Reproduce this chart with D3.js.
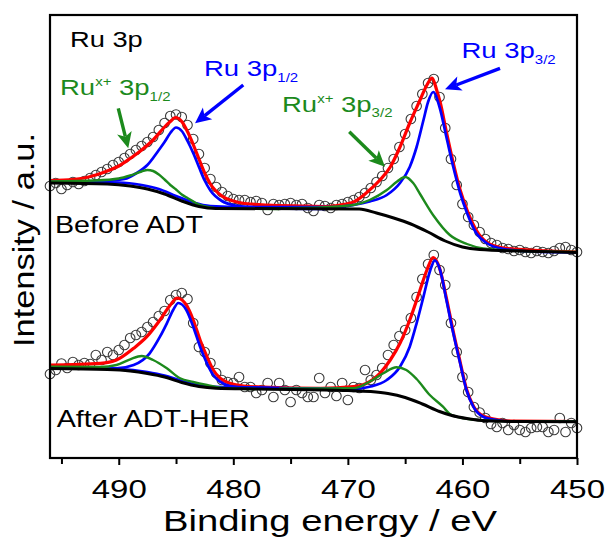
<!DOCTYPE html>
<html><head><meta charset="utf-8">
<script src="https://cdn.jsdelivr.net/npm/d3@7"></script>
<style>
body{margin:0;background:#fff}
svg{display:block}
text{font-family:"Liberation Sans",Arial,sans-serif;white-space:pre}
</style>
</head><body>
<svg id="chart" width="611" height="539"></svg>
<script>
// ---------------- data (binding energy in eV, intensity in a.u.) ----------------
const xTicksMajor = [490, 480, 470, 460, 450];
const xTicksMinor = [495, 485, 475, 465, 455];
const energyGrid = d3.range(496, 449.75, -0.5);   // measured energy steps

// Before ADT : raw data (open circles)
const topCircles = [27.2,27.5,26.9,27.3,27.6,27.4,27.7,28.0,28.3,28.6,
  28.9,29.3,29.6,30.0,30.4,30.8,31.2,31.6,32.1,32.8,
  33.5,34.2,34.35,34.1,33.3,31.9,30.4,29.0,27.9,27.1,
  26.6,26.2,25.9,25.8,25.8,25.6,25.7,25.5,24.8,25.4,
  25.3,25.4,25.5,25.3,25.4,25.0,24.7,25.3,25.2,25.0,
  25.3,25.4,25.6,25.8,26.1,26.5,27.0,27.6,28.2,29.0,
  29.9,31.1,32.4,33.9,35.2,36.4,37.5,37.9,36.1,33.0,
  29.9,27.3,25.4,24.1,23.3,22.6,21.9,21.5,21.3,21.0,
  20.9,20.7,20.8,20.6,20.5,20.7,20.6,20.5,20.7,21.0,
  21.1,20.8,20.6];
// After ADT-HER : raw data (open circles)
const botCircles = [8.4,8.8,9.45,9.0,9.6,9.3,9.5,9.4,10.3,9.8,
  10.6,10.3,10.8,11.3,12.0,12.3,12.6,13.1,13.6,14.2,
  14.7,15.8,16.3,16.5,15.9,13.5,11.1,10.6,9.5,8.5,
  7.8,7.6,7.5,8.1,7.1,7.1,6.5,6.8,7.5,6.1,
  7.5,6.8,5.6,6.8,6.5,6.1,6.1,8.0,6.5,7.1,
  6.2,7.5,5.8,7.1,7.0,8.8,7.8,8.3,9.0,10.3,
  11.3,12.2,12.8,14.0,16.1,17.9,19.4,20.3,18.8,17.3,
  13.5,10.6,8.1,6.6,5.1,4.55,4.0,3.4,3.1,3.5,
  2.8,3.3,2.8,2.6,3.0,3.1,3.1,2.6,2.8,4.0,
  2.6,3.5,3.0];

// Before ADT : fitted curves [eV, intensity]
const topBackground = [[496,27.5],[491,27.4],[489,27.2],[487.5,26.9],[486,26.4],[484.5,25.7],[483,25.15],[481.5,24.95],[469,24.9],[467.5,24.5],[466,24.0],[464.5,23.4],[463,22.6],[461.5,21.7],[460,21.1],[458.5,20.85],[455,20.7],[450,20.55]];
const topRu12 = [[496,27.6],[491,27.7],[489.5,27.9],[488.5,28.45],[487.5,29.3],[486.5,30.8],[486,31.6],[485.5,32.5],[485,33.05],[484.5,32.7],[484,31.7],[483.5,30.5],[483,29.1],[482.5,27.75],[482,26.75],[481,25.7],[480,25.3],[478,25.05],[476,24.95],[472,24.9]];
const topRux12 = [[496,27.65],[492,27.75],[490,27.95],[489,28.25],[488,28.65],[487.5,28.8],[487,28.7],[486.5,28.35],[486,27.85],[485.5,27.3],[485,26.85],[484.5,26.35],[484,26.0],[483,25.35],[482,25.05],[481,24.95],[476,24.9]];
const topRu32 = [[496,27.6],[490,27.55],[488,27.3],[486.5,26.9],[485,26.2],[483.5,25.55],[482,25.2],[479,25.1],[471,25.1],[469.5,25.3],[468.1,25.65],[466.6,26.3],[465.45,27.5],[464.6,29.1],[464,31.1],[463.4,33.8],[463,35.6],[462.55,36.6],[462,35.1],[461.4,32.1],[460.8,29.1],[460.2,26.5],[459.6,24.5],[458.8,22.5],[457.9,21.5],[456.4,20.9],[454.1,20.65],[450,20.55]];
const topRux32 = [[478,24.95],[472.4,25.05],[469.5,25.3],[468.1,25.8],[466.6,26.8],[465.7,27.65],[465.0,28.1],[464.3,27.5],[463.7,26.4],[462.5,24.2],[461.1,22.3],[459.6,21.4],[458.2,20.95],[456,20.75],[450,20.6]];
const topEnvelope = [[496,27.75],[494,27.85],[493,28.0],[492,28.3],[491,28.7],[490,29.2],[489,29.95],[488,30.8],[487,31.8],[486,33.1],[485.5,33.65],[485.05,34.05],[484.5,33.65],[484,32.65],[483.5,31.35],[483,29.9],[482.5,28.5],[482,27.4],[481,26.2],[480,25.7],[479,25.45],[477,25.3],[474,25.2],[472,25.15],[470.7,25.3],[469.5,25.6],[468.4,26.5],[467.2,27.8],[466.3,29.1],[465.45,31.1],[464.6,33.5],[463.7,35.8],[463.1,37.3],[462.65,38.0],[462.25,36.8],[461.95,35.6],[461.4,32.6],[460.8,29.5],[460.2,26.8],[459.6,24.8],[458.8,22.8],[457.9,21.6],[456.4,21.0],[454.1,20.8],[450,20.6]];

// After ADT-HER : fitted curves [eV, intensity]
const botBackground = [[496,8.95],[491,8.85],[489,8.7],[487.5,8.45],[486,8.1],[484.5,7.55],[483,7.15],[481.5,6.98],[478,6.9],[470,6.75],[468,6.65],[466.5,6.45],[465,6.05],[463.5,5.4],[462,4.65],[461,4.27],[459.5,3.92],[458,3.72],[455,3.65],[450,3.63]];
const botRu12 = [[496,9.07],[490.2,8.97],[488.7,9.3],[487.3,10.47],[486.4,12.13],[485.8,13.47],[485.25,14.8],[484.8,15.5],[484.1,14.8],[483.5,13.13],[482.9,11.13],[482.3,9.47],[481.75,8.3],[481.15,7.63],[480.3,7.2],[478.5,7.05],[476,7.0],[472,6.85]];
const botRux12 = [[496,9.13],[491.6,9.1],[490.2,9.3],[489,9.87],[488,10.2],[487,9.8],[485.8,8.97],[484.65,7.97],[483.5,7.6],[482.3,7.3],[480.6,6.97],[478,6.9]];
const botRu32 = [[496,9.05],[490,8.9],[487.5,8.6],[486,8.25],[484.5,7.7],[483,7.3],[481,7.1],[476,7.0],[472,6.95],[469.5,6.9],[468.1,7.13],[466.6,7.8],[465.45,9.13],[464.6,11.13],[464,13.47],[463.4,16.13],[462.85,18.63],[462.4,19.77],[461.95,18.8],[461.4,15.8],[460.8,12.47],[460.2,9.47],[459.65,6.8],[459.05,5.13],[458.2,4.13],[457,3.8],[455.5,3.65],[450,3.63]];
const botRux32 = [[476,6.95],[472,6.95],[469.5,6.97],[468.1,7.63],[466.9,8.47],[465.75,9.07],[464.9,8.8],[464,7.9],[462.85,6.3],[461.7,5.13],[461.1,4.4],[460,4.0],[458,3.75],[455,3.67],[450,3.65]];
const botEnvelope = [[496,9.3],[491.6,9.47],[490.2,9.8],[488.7,10.97],[487.55,12.13],[486.4,13.8],[485.5,15.3],[484.9,16.0],[484.1,15.3],[483.5,13.8],[482.9,11.8],[482.3,10.13],[481.75,8.8],[481.15,7.97],[480.3,7.47],[479.1,7.2],[476.8,7.07],[472.4,6.97],[469.5,7.13],[468.1,7.63],[467.2,8.47],[466.3,9.8],[465.45,11.47],[464.6,13.8],[463.7,16.8],[463.1,18.8],[462.55,20.05],[462.0,19.0],[461.4,16.0],[460.8,12.65],[460.2,9.6],[459.65,6.9],[459.05,5.2],[458.2,4.2],[457,3.85],[455.5,3.68],[450,3.65]];

// annotation arrows [eV, intensity] from -> to
const arrows = [
  {from:[490.04,34.97], to:[489.17,30.97], color:"#1c8a1c"},
  {from:[479.13,37.3],  to:[483.34,33.47], color:"#0000ff"},
  {from:[456.72,38.97], to:[461.52,36.87], color:"#0000ff"},
  {from:[469.88,32.63], to:[466.76,29.13], color:"#1c8a1c"}
];

// ---------------- drawing ----------------
const RED = "#ff0000", BLUE = "#0000ff", GREEN = "#1c8a1c", BLACK = "#000";
const svg = d3.select("#chart");
const L = 50, R = 577, T = 15, B = 458;
const x = d3.scaleLinear().domain([496, 450]).range([L, R]);
const y = d3.scaleLinear().domain([0, 44.3]).range([B, T]);

const line = d3.line().x(d => x(d[0])).y(d => y(d[1])).curve(d3.curveMonotoneX);

const plot = svg.append("g");

function drawCircles(vals){
  plot.append("g").selectAll("circle").data(vals).join("circle")
    .attr("cx", (d,i) => x(energyGrid[i])).attr("cy", d => y(d))
    .attr("r", 4.8).attr("fill", "none").attr("stroke", "#3a3a3a").attr("stroke-width", 1.1);
}
drawCircles(topCircles);
drawCircles(botCircles);

function path(data, color, w){
  plot.append("path").datum(data).attr("d", line).attr("fill", "none")
    .attr("stroke", color).attr("stroke-width", w).attr("stroke-linejoin", "round");
}
path(topEnvelope, RED, 3.2); path(botEnvelope, RED, 3.2);
path(topRu12, BLUE, 2.7); path(topRu32, BLUE, 2.7);
path(botRu12, BLUE, 2.7); path(botRu32, BLUE, 2.7);
path(topRux12, GREEN, 2.4); path(topRux32, GREEN, 2.4);
path(botRux12, GREEN, 2.4); path(botRux32, GREEN, 2.4);
path(topBackground, BLACK, 3); path(botBackground, BLACK, 3);

// arrows
arrows.forEach(a => {
  const x1 = x(a.from[0]), y1 = y(a.from[1]), x2 = x(a.to[0]), y2 = y(a.to[1]);
  const dx = x2 - x1, dy = y2 - y1, len = Math.hypot(dx, dy);
  const ux = dx/len, uy = dy/len, px = -uy, py = ux;
  const hl = 16, hw = 7.5, notch = 4;
  const bx = x2 - ux*hl, by = y2 - uy*hl;
  svg.append("line").attr("x1", x1).attr("y1", y1)
    .attr("x2", bx + ux*notch).attr("y2", by + uy*notch)
    .attr("stroke", a.color).attr("stroke-width", 3.4);
  svg.append("path").attr("fill", a.color)
    .attr("d", `M${x2},${y2}L${bx+px*hw},${by+py*hw}L${bx+ux*notch},${by+uy*notch}L${bx-px*hw},${by-py*hw}Z`);
});

// frame
svg.append("rect").attr("x", L).attr("y", T).attr("width", R-L).attr("height", B-T)
  .attr("fill", "none").attr("stroke", "#000").attr("stroke-width", 2.2);

// x axis
const ax = svg.append("g").attr("transform", `translate(0,${B})`)
  .call(d3.axisBottom(x).tickValues(xTicksMajor).tickSize(7).tickFormat(d3.format("d")));
ax.select(".domain").remove();
ax.selectAll(".tick line").attr("stroke-width", 2);
ax.selectAll(".tick text").attr("dy", null).attr("y", 40.3)
  .attr("font-size", 25.5).attr("fill", "#000")
  .attr("textLength", 55).attr("lengthAdjust", "spacingAndGlyphs")
  .attr("font-family", '"Liberation Sans",Arial,sans-serif');
const axm = svg.append("g").attr("transform", `translate(0,${B})`)
  .call(d3.axisBottom(x).tickValues(xTicksMinor).tickSize(6).tickFormat(""));
axm.select(".domain").remove();
axm.selectAll(".tick line").attr("stroke-width", 2);

// axis titles
svg.append("text").attr("x", 330).attr("y", 531).attr("text-anchor", "middle")
  .attr("font-size", 29).attr("textLength", 334).attr("lengthAdjust", "spacingAndGlyphs")
  .text("Binding energy / eV");
svg.append("text").attr("transform", "translate(33.5,240) rotate(-90)").attr("text-anchor", "middle")
  .attr("font-size", 30).attr("textLength", 214).attr("lengthAdjust", "spacingAndGlyphs")
  .text("Intensity / a.u.");

// labels
function label(px, py, parts, color, sx){
  const t = svg.append("text").attr("transform", `translate(${px},${py}) scale(${sx},1)`).attr("fill", color);
  parts.forEach(p => t.append("tspan").attr("font-size", p[1]).attr("dy", p[2]).text(p[0]));
}
label(70, 46.5, [["Ru 3p", 22, 0]], "#000", 1.24);
label(204, 76, [["Ru 3p", 22, 0], ["1/2", 12, 5.5]], BLUE, 1.25);
label(461.5, 58.3, [["Ru 3p", 22, 0], ["3/2", 12, 5.5]], BLUE, 1.25);
label(60, 95, [["Ru", 22, 0], ["x+", 12, -9], [" 3p", 22, 9], ["1/2", 12, 5.5]], GREEN, 1.25);
label(282, 111.7, [["Ru", 22, 0], ["x+", 12, -9], [" 3p", 22, 9], ["3/2", 12, 5.5]], GREEN, 1.25);
svg.append("text").attr("x", 55).attr("y", 233.3).attr("font-size", 24)
  .attr("textLength", 148).attr("lengthAdjust", "spacingAndGlyphs").text("Before ADT");
svg.append("text").attr("x", 56.7).attr("y", 426.7).attr("font-size", 24)
  .attr("textLength", 193).attr("lengthAdjust", "spacingAndGlyphs").text("After ADT-HER");
</script>
</body></html>
